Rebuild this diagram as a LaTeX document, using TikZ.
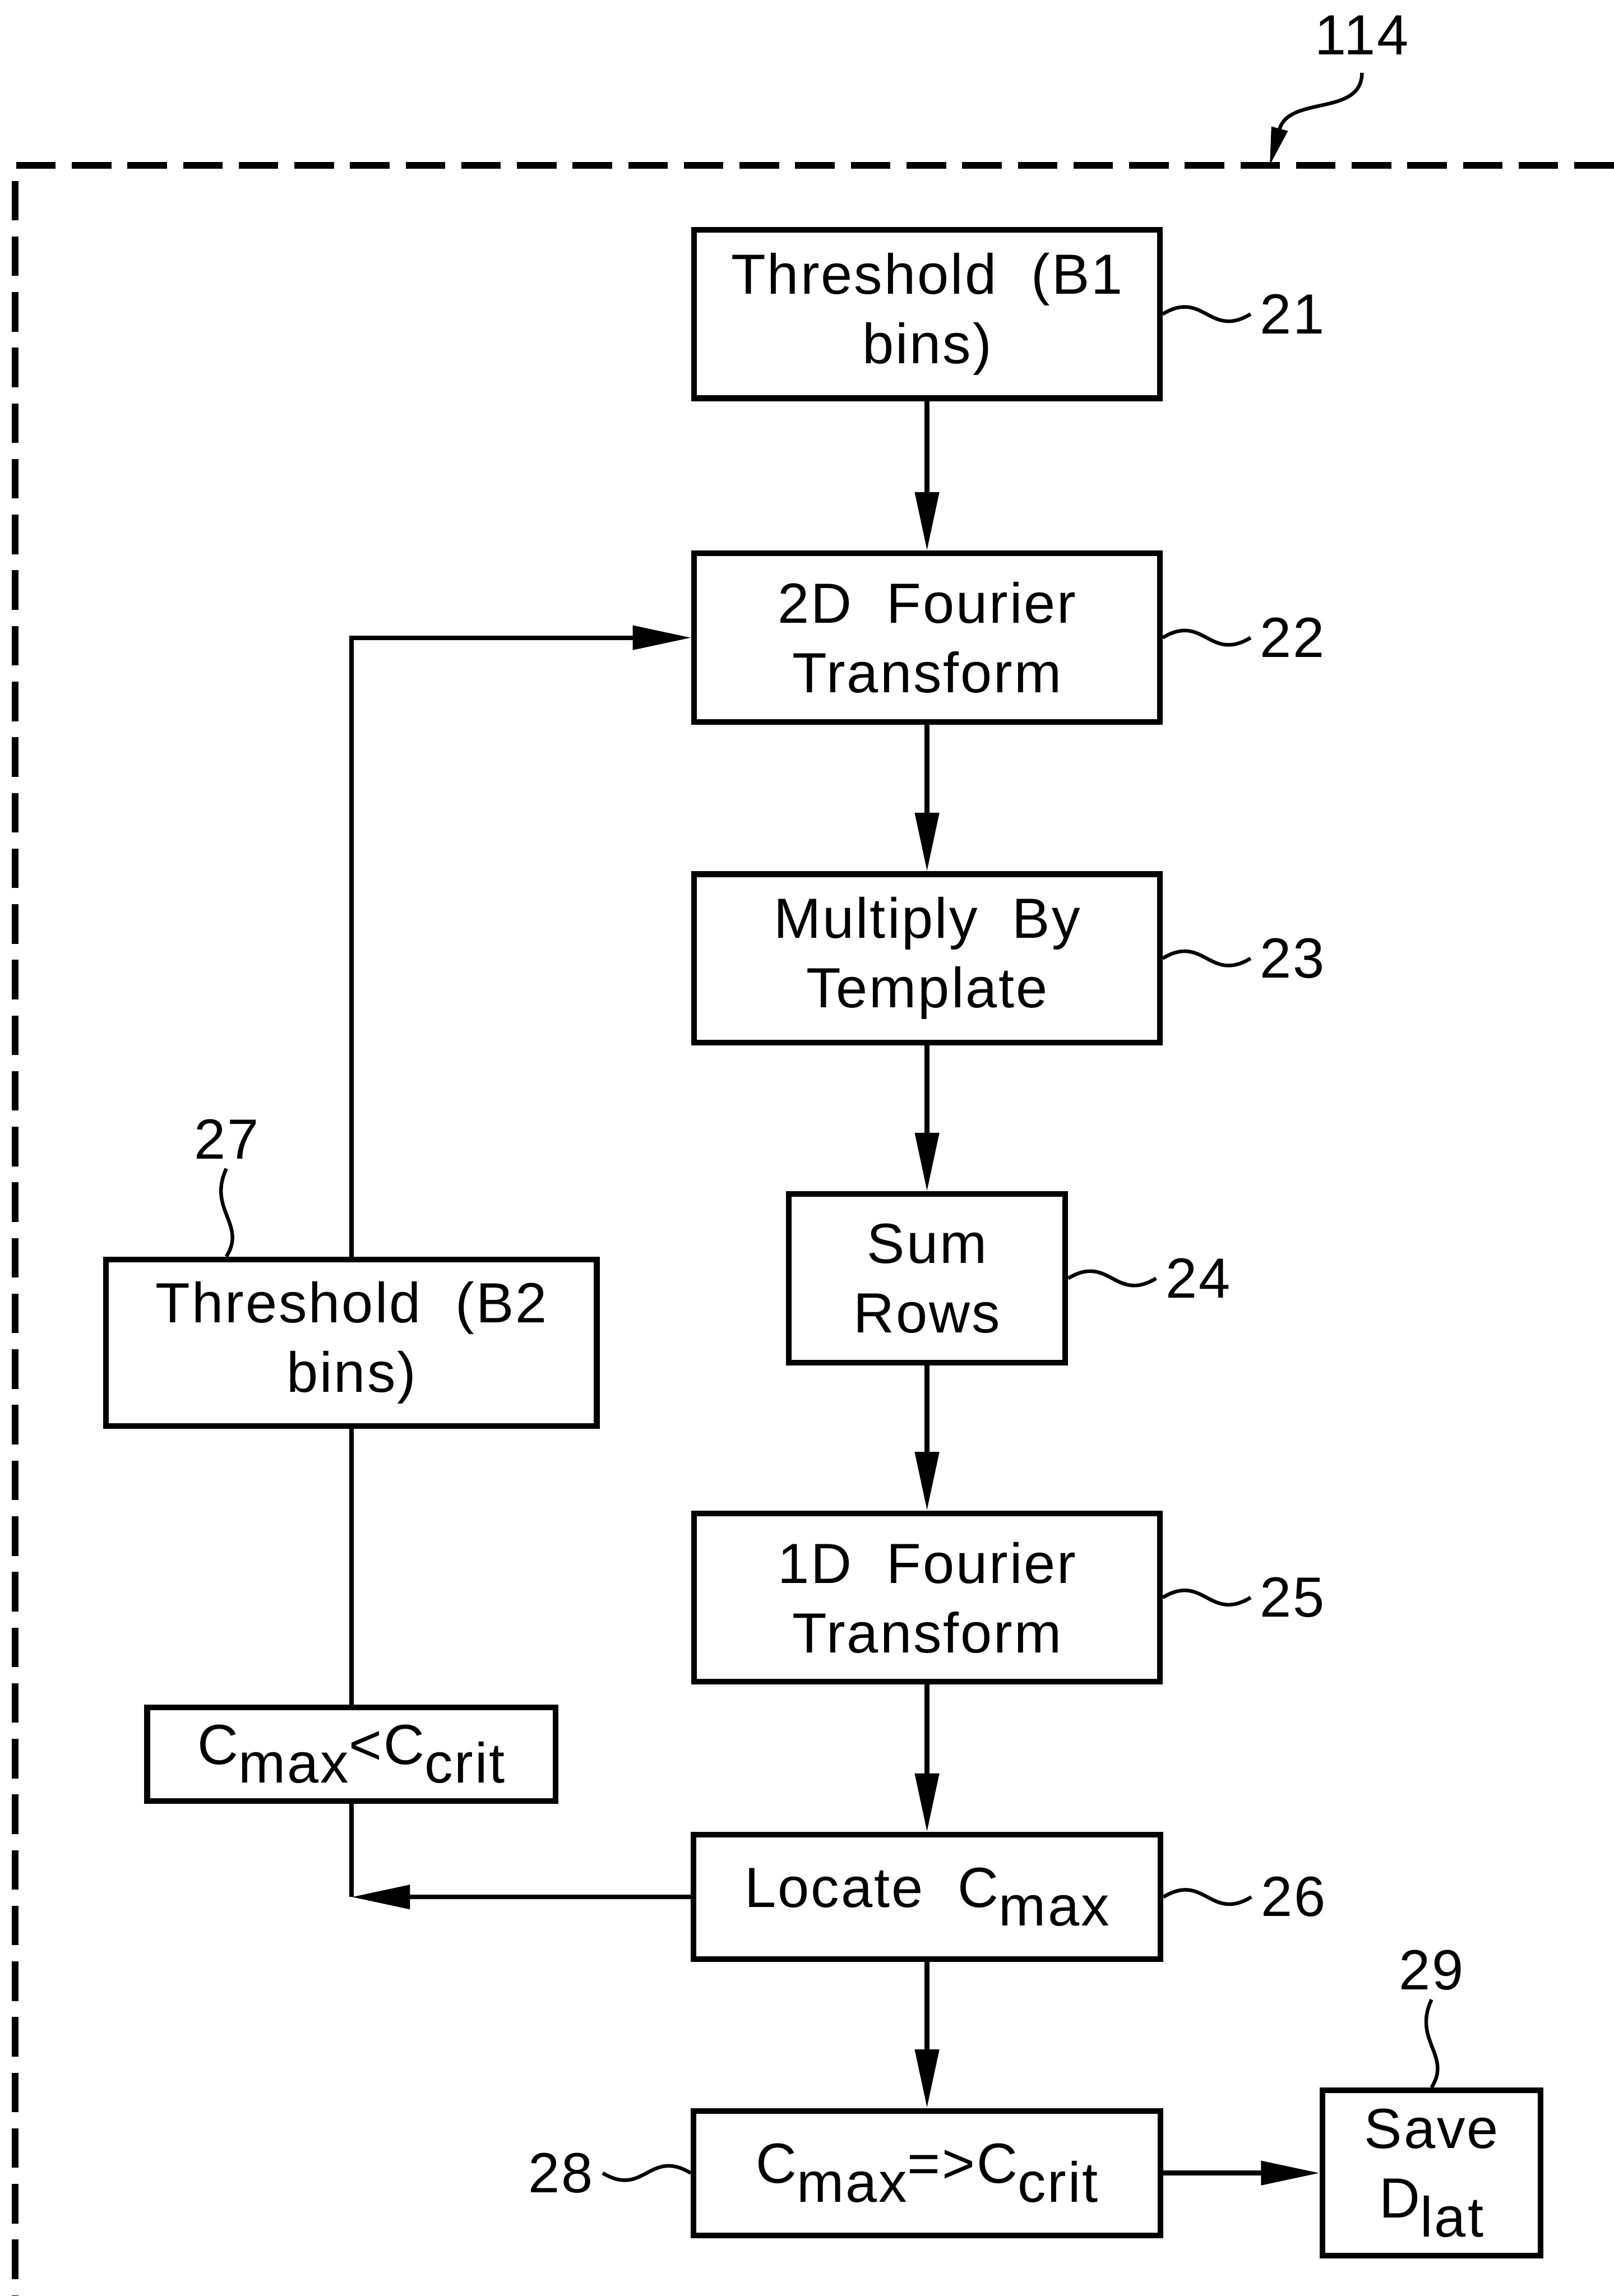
\documentclass[tikz,border=0pt]{standalone}
\usepackage{fontspec}
\setmainfont{Liberation Sans}[LetterSpace=3]
\usepackage{tikz}
\usetikzlibrary{arrows.meta}
\newcommand{\lowtxt}[1]{\raisebox{-0.33em}{#1}}

\begin{document}
\begin{tikzpicture}[font=\fontsize{11}{13.5}\selectfont,
  box/.style={draw,line width=1.1pt,minimum width=3.18cm,minimum height=1.15cm,inner sep=0pt,align=center},
  flow/.style={line width=0.9pt,-{Triangle[length=4mm,width=1.6mm]}},
  lead/.style={line width=0.7pt}]
\useasboundingbox (0,0) rectangle (11.02,-15.68);
% frame 114
\draw[line width=1.3pt,dash pattern=on 2.7mm off 1.1mm] (11.02,-1.13) -- (0.105,-1.13) -- (0.105,-15.68);
\node (l114) at (9.30,-0.24) {114};
\coordinate (f114) at (8.67,-1.13);
\draw[lead,-{Triangle[length=2.6mm,width=1.1mm]}] (l114.south) .. controls +(0,-0.3) and +(0.13,0.48) .. (f114);
% main column
\node[box] (n21) at (6.33,-2.145) {Threshold\ \ (B1\\bins)};
\node[box] (n22) at (6.33,-4.355) {2D\ \ Fourier\\Transform};
\node[box] (n23) at (6.33,-6.545) {Multiply\ \ By\\Template};
\node[box,minimum width=1.89cm] (n24) at (6.33,-8.73) {Sum\\Rows};
\node[box] (n25) at (6.33,-10.91) {1D\ \ Fourier\\Transform};
\node[box,minimum width=3.19cm,minimum height=0.85cm] (n26) at (6.33,-12.955) {Locate\ \ C\lowtxt{max}};
\node[box,minimum width=3.19cm,minimum height=0.85cm] (n28) at (6.33,-14.84) {C\lowtxt{max}=>C\lowtxt{crit}};
\node[box,minimum width=1.49cm,minimum height=1.13cm] (n29) at (9.775,-14.84) {Save\\D\lowtxt{lat}};
% loop back
\node[box,minimum width=3.35cm,minimum height=1.14cm] (n27) at (2.40,-9.17) {Threshold\ \ (B2\\bins)};
\node[box,minimum width=2.79cm,minimum height=0.64cm] (cnd) at (2.40,-11.98) {C\lowtxt{max}<C\lowtxt{crit}};
\coordinate (lc) at (2.40,-12.955);
\foreach \a/\b in {21/22,22/23,23/24,24/25,25/26,26/28,28/29}
  \draw[flow] (n\a) -- (n\b);
\draw[flow] (n26) -- (lc);
\draw[line width=0.9pt] (lc) -- (cnd) -- (n27);
\draw[flow] (n27) |- (n22);
% reference numerals
\foreach \b in {21,22,23,24,25,26}
  \draw[lead] (n\b.east) .. controls +(0.28,0.17) and +(-0.28,-0.17) .. ++(0.6,0) node[anchor=west,inner sep=1.5pt] (l\b) {\b};
\draw[lead] (n28.west) .. controls +(-0.28,0.17) and +(0.28,-0.17) .. ++(-0.6,0) node[anchor=east,inner sep=1.5pt] (l28) {28};
\draw[lead] (n29.north) .. controls +(0.14,0.22) and +(-0.13,-0.28) .. ++(0,0.6) node[anchor=south,inner sep=1.5pt] (l29) {29};
\draw[lead] ([xshift=8.4mm]n27.north west) .. controls +(0.14,0.22) and +(-0.13,-0.28) .. ++(0,0.6) node[anchor=south,inner sep=1.5pt] (l27) {27};
\end{tikzpicture}
\end{document}
